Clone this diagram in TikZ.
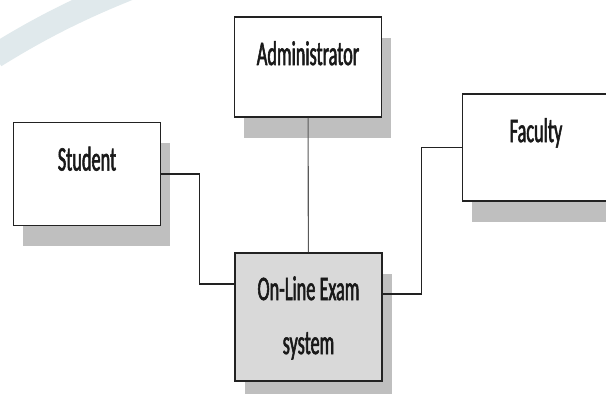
\documentclass[tikz,border=0pt]{standalone}
\usepackage{fontspec}
\newfontfamily\labelfont[FakeStretch=0.53, FakeBold=1.6]{Carlito}
\usetikzlibrary{shadows}
\definecolor{boxline}{HTML}{222222}
\definecolor{shadowgray}{HTML}{BFBFBF}
\definecolor{sysfill}{HTML}{D9D9D9}
\definecolor{watermark}{HTML}{E0E9EC}
\tikzset{
  entity/.style={draw=boxline, line width=1.9pt, fill=white, inner sep=0pt,
    minimum width=147pt, minimum height=102pt,
    drop shadow={shadow xshift=9.5pt, shadow yshift=-20.5pt, fill=shadowgray, opacity=1}},
  entityname/.style={font=\labelfont\fontsize{34.5}{54}\selectfont, inner sep=0pt, text=black!90},
  link/.style={draw=boxline, line width=1.6pt},
}
\begin{document}
\begin{tikzpicture}[x=1pt, y=-1pt]
				\useasboundingbox (0,0) rectangle (606,394);
				\clip (0,0) rectangle (606,394);
				\fill[white] (0,0) rectangle (606,394);
				% watermark band in the corner
				\draw[watermark, line width=24pt] (-5,56) .. controls (40,28) and (80,8) .. (130,-12);
				% boxes
				\node[entity, minimum height=100pt] (admin) at (308,67) {};
				\node[entity, minimum height=103pt] (student) at (87,174) {};
				\node[entity, minimum height=107pt] (faculty) at (536,147.5) {};
				\node[entity, fill=sysfill, minimum height=128pt] (sys) at (308.5,317) {};
				% names
				\node[entityname, anchor=base] (admintext) at ([yshift=-49pt]admin.north) {Administrator};
				\node[entityname, anchor=base] (studenttext) at ([yshift=-49pt]student.north) {Student};
				\node[entityname, anchor=base] (facultytext) at ([yshift=-49pt]faculty.north) {Faculty};
				\node[entityname, anchor=base, align=center] (systext) at ([yshift=-102pt]sys.north) {On-Line Exam\\system};
				% connectors
				\draw[link, line width=1.1pt, draw=boxline!75] (admin) -- (sys);
				\draw[link] (student.east) -- ++(38,0) |- ([yshift=-32pt]sys.north west);
				\draw[link] (faculty.west) -- ++(-40,0) |- ([yshift=-42pt]sys.north east);
\end{tikzpicture}
\end{document}
